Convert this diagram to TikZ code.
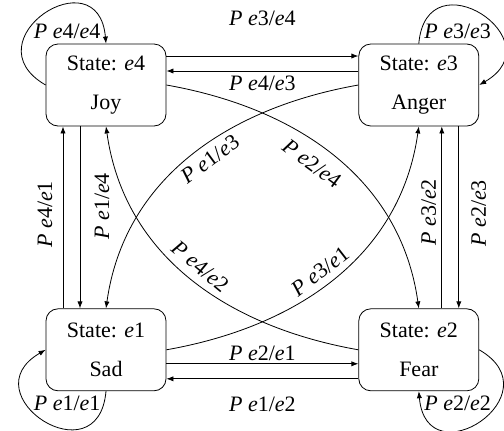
\documentclass[tikz,border=0pt]{standalone}
\usepackage{fontspec}
\setmainfont{Liberation Serif}
\usetikzlibrary{arrows.meta, positioning}

\newcommand{\ptrans}[2]{\textit{P e}#1/\textit{e}#2}

\begin{document}
\begin{tikzpicture}[
    >={Latex[length=3.5pt,width=2.6pt]},
    node distance=91pt and 96pt,
    every node/.style={font=\fontsize{11}{13.5}\selectfont},
    state/.style={rectangle, draw, rounded corners=6pt, minimum width=60pt, minimum height=41pt, align=center},
]
\useasboundingbox (0,0) rectangle (252pt,-215pt);

% States
\node (e4) [state] at (53pt,-42.5pt) {State: \textit{e}4\\[6pt]Joy};
\node (e3) [state, right=of e4] {State: \textit{e}3\\[6pt]Anger};
\node (e1) [state, below=of e4] {State: \textit{e}1\\[6pt]Sad};
\node (e2) [state, below=of e3] {State: \textit{e}2\\[6pt]Fear};

% Horizontal
\draw [->] ([yshift=14.5pt]e4.east) -- ([yshift=14.5pt]e3.west) node[midway, yshift=19pt] {\ptrans{3}{4}};
\draw [->] ([yshift=7pt]e3.west) -- ([yshift=7pt]e4.east) node[midway, yshift=-6pt] {\ptrans{4}{3}};
\draw [->] ([yshift=-7pt]e1.east) -- ([yshift=-7pt]e2.west) node[midway, yshift=5pt] {\ptrans{2}{1}};
\draw [->] ([yshift=-14.5pt]e2.west) -- ([yshift=-14.5pt]e1.east) node[midway, yshift=-13pt] {\ptrans{1}{2}};

% Vertical
\draw [->] ([xshift=-21.5pt]e1.north) -- ([xshift=-21.5pt]e4.south) node[midway, xshift=-9pt, yshift=1.5pt, rotate=90] {\ptrans{4}{1}};
\draw [->] ([xshift=-13pt]e4.south) -- ([xshift=-13pt]e1.north) node[midway, xshift=11pt, yshift=5.5pt, rotate=90] {\ptrans{1}{4}};
\draw [->] ([xshift=11.5pt]e2.north) -- ([xshift=11.5pt]e3.south) node[midway, xshift=-6.5pt, yshift=2.5pt, rotate=90] {\ptrans{3}{2}};
\draw [->] ([xshift=20pt]e3.south) -- ([xshift=20pt]e2.north) node[midway, xshift=10pt, yshift=2pt, rotate=90] {\ptrans{2}{3}};

% Diagonals
\draw [->] (e4.east) to[out=-10, in=98] node[pos=0.46, sloped, below=2.5pt] {\ptrans{2}{4}} (e2.north);
\draw [->] (e3.west) to[out=190, in=82] node[pos=0.46, sloped, below=0pt] {\ptrans{1}{3}} (e1.north);
\draw [->] (e1.east) to[out=10, in=-98] node[pos=0.48, sloped, above=0pt] {\ptrans{3}{1}} (e3.south);
\draw [->] (e2.west) to[out=170, in=-82] node[pos=0.5, sloped, above=0.5pt] {\ptrans{4}{2}} (e4.south);

% Loops
\draw [->] (e4.west) to[out=150, in=95, looseness=3.1] node[pos=0.65, below=6pt] {\ptrans{4}{4}} (e4.north);
\draw [->] (e3.north) to[out=85, in=30, looseness=3.1] node[pos=0.35, below=6pt] {\ptrans{3}{3}} (e3.east);
\draw [->] (e1.south) to[out=-95, in=-150, looseness=3.1] node[pos=0.35, above=6pt] {\ptrans{1}{1}} (e1.west);
\draw [->] (e2.east) to[out=-30, in=-85, looseness=3.1] node[pos=0.65, above=6pt] {\ptrans{2}{2}} (e2.south);

\end{tikzpicture}
\end{document}
